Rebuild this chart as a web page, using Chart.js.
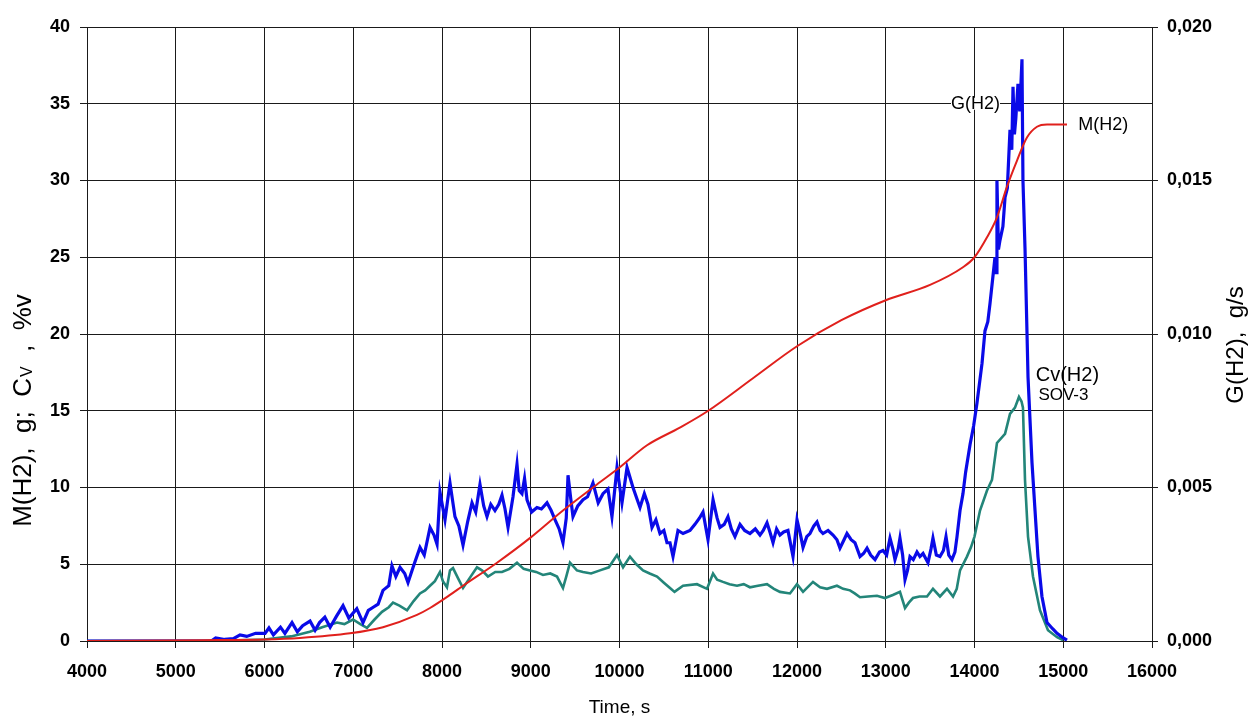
<!DOCTYPE html>
<html>
<head>
<meta charset="utf-8">
<script src="https://cdn.jsdelivr.net/npm/chart.js@4.4.0/dist/chart.umd.min.js"></script>
<style>
html, body { margin: 0; padding: 0; background: #fff; }
</style>
</head>
<body>
<canvas id="chart" width="1248" height="722"></canvas>
<script>
// G(H2), g/s  (right axis)
const gTime = [4000, 5000, 5400, 5450, 5550, 5650, 5724, 5800, 5900, 6006, 6050, 6100, 6180, 6230, 6310, 6370, 6430, 6513, 6570, 6620,
    6680, 6740, 6810, 6885, 6950, 7040, 7110, 7170, 7225, 7280, 7335, 7400, 7436, 7480, 7527, 7580, 7617, 7680, 7752, 7800,
    7865, 7910, 7944, 7977, 8034, 8090, 8146, 8190, 8237, 8290, 8338, 8380, 8428, 8470, 8507, 8550, 8597, 8640, 8676, 8710,
    8744, 8800, 8845, 8870, 8901, 8930, 8958, 9010, 9070, 9120, 9183, 9230, 9273, 9320, 9363, 9400, 9420, 9450, 9476, 9530,
    9589, 9640, 9701, 9760, 9814, 9870, 9915, 9972, 10028, 10085, 10152, 10200, 10231, 10280, 10321, 10366, 10410, 10456, 10500, 10535,
    10569, 10603, 10659, 10716, 10794, 10850, 10900, 10941, 10997, 11054, 11100, 11132, 11180, 11222, 11260, 11301, 11358, 11410, 11470, 11530,
    11583, 11620, 11662, 11700, 11730, 11770, 11808, 11850, 11898, 11955, 12000, 12040, 12068, 12110, 12146, 12190, 12225, 12260, 12293, 12350,
    12406, 12450, 12484, 12530, 12563, 12610, 12653, 12710, 12750, 12789, 12830, 12879, 12930, 12969, 13010, 13048, 13080, 13104, 13140, 13160,
    13190, 13217, 13245, 13273, 13310, 13352, 13385, 13420, 13476, 13510, 13532, 13570, 13611, 13650, 13679, 13710, 13746, 13780, 13803, 13837,
    13870, 13900, 13950, 13990, 14028, 14085, 14118, 14150, 14175, 14231, 14245, 14253, 14270, 14287, 14320, 14344, 14370, 14400, 14420, 14434,
    14450, 14465, 14490, 14510, 14535, 14546, 14569, 14591, 14603, 14648, 14682, 14715, 14760, 14817, 14880, 14930, 15000, 15042];
const gFlow = [0, 0, 0, 0.0001, 0.00005, 0.000075, 0.0002, 0.00015, 0.00025, 0.00025, 0.000425, 0.0002, 0.00045, 0.00025, 0.0006, 0.0003, 0.0005, 0.00065, 0.00035, 0.0006,
    0.000775, 0.00045, 0.0008, 0.00115, 0.00075, 0.00105, 0.0006, 0.001, 0.0011, 0.0012, 0.00165, 0.0018, 0.00245, 0.0021, 0.0024, 0.0022, 0.0019, 0.00245, 0.00305, 0.0028,
    0.0037, 0.00345, 0.00315, 0.00485, 0.00395, 0.00515, 0.00405, 0.00375, 0.003125, 0.0039, 0.0045, 0.0042, 0.0051, 0.0044, 0.00405, 0.00445, 0.00425, 0.00445, 0.00475, 0.0043,
    0.0037, 0.0047, 0.00575, 0.0049, 0.0048, 0.0053, 0.0046, 0.0042, 0.00435, 0.0043, 0.0045, 0.00425, 0.00395, 0.00365, 0.0032, 0.004, 0.0054, 0.00465, 0.00405, 0.0044,
    0.0046, 0.0047, 0.00515, 0.0045, 0.0048, 0.00495, 0.00405, 0.00565, 0.0045, 0.00565, 0.005, 0.0046, 0.00435, 0.0048, 0.00445, 0.0037, 0.00395, 0.0035, 0.0036, 0.0032,
    0.0032, 0.00275, 0.0036, 0.0035, 0.0036, 0.0038, 0.004, 0.0042, 0.0033, 0.0046, 0.004, 0.0037, 0.0038, 0.00405, 0.00365, 0.0034, 0.0038, 0.0036, 0.0035, 0.00365,
    0.00345, 0.0036, 0.00385, 0.0035, 0.0032, 0.00365, 0.00345, 0.00355, 0.0036, 0.00275, 0.00395, 0.00345, 0.00305, 0.0034, 0.0035, 0.00375, 0.003875, 0.0036, 0.0035, 0.0036,
    0.00345, 0.0033, 0.003025, 0.0033, 0.0035, 0.0033, 0.0032, 0.00275, 0.00285, 0.003025, 0.0028, 0.00265, 0.0029, 0.00295, 0.0028, 0.00335, 0.003, 0.00265, 0.003, 0.00335,
    0.0028, 0.002, 0.0023, 0.00275, 0.00265, 0.0029, 0.00275, 0.00285, 0.00255, 0.003, 0.00335, 0.0028, 0.00275, 0.00295, 0.0034, 0.0028, 0.00265, 0.0029, 0.0034, 0.00425,
    0.0048, 0.0055, 0.0064, 0.007, 0.00775, 0.00905, 0.0101, 0.0104, 0.011, 0.0125, 0.012, 0.015, 0.01275, 0.01305, 0.0135, 0.01445, 0.01475, 0.01665, 0.016, 0.01805,
    0.0165, 0.017, 0.01815, 0.01725, 0.01895, 0.015, 0.0128, 0.0101, 0.0086, 0.0058, 0.00425, 0.00275, 0.00145, 0.0006, 0.0004, 0.00025, 0.0001, 0.000025];

// Cv(H2) SOV-3, %v  (left axis)
const cTime = [4000, 5400, 6000, 6300, 6510, 6650, 6817, 6900, 6997, 7080, 7155, 7240, 7324, 7400, 7448, 7520, 7606, 7680, 7752, 7810,
    7865, 7920, 7977, 8010, 8056, 8090, 8124, 8180, 8237, 8300, 8394, 8450, 8518, 8600, 8676, 8760, 8845, 8920, 8991, 9060,
    9138, 9220, 9296, 9363, 9400, 9442, 9520, 9589, 9680, 9780, 9880, 9972, 10040, 10118, 10190, 10265, 10340, 10423, 10500, 10569,
    10620, 10716, 10873, 10986, 11054, 11100, 11166, 11240, 11324, 11400, 11470, 11560, 11662, 11740, 11808, 11921, 12000, 12068, 12180, 12260,
    12338, 12450, 12520, 12597, 12650, 12710, 12800, 12901, 12991, 13080, 13160, 13217, 13260, 13307, 13380, 13465, 13532, 13611, 13690, 13758,
    13800, 13837, 13915, 13960, 14000, 14062, 14141, 14197, 14253, 14344, 14400, 14456, 14501, 14530, 14546, 14569, 14603, 14659, 14738, 14828,
    14930, 15000];
const cConc = [0, 0, 0.1, 0.3, 0.6, 0.9, 1.2, 1.1, 1.4, 1.1, 0.85, 1.4, 1.9, 2.2, 2.5, 2.3, 2.0, 2.6, 3.1, 3.3,
    3.6, 3.9, 4.5, 3.9, 3.5, 4.6, 4.75, 4.1, 3.45, 4.0, 4.8, 4.6, 4.2, 4.5, 4.5, 4.7, 5.1, 4.7, 4.6, 4.5,
    4.3, 4.4, 4.2, 3.45, 4.2, 5.1, 4.6, 4.5, 4.4, 4.6, 4.8, 5.6, 4.8, 5.5, 5.0, 4.6, 4.4, 4.2, 3.8, 3.45,
    3.2, 3.6, 3.7, 3.4, 4.4, 4.0, 3.85, 3.7, 3.6, 3.7, 3.5, 3.6, 3.7, 3.4, 3.2, 3.1, 3.7, 3.2, 3.85, 3.5,
    3.4, 3.6, 3.4, 3.3, 3.1, 2.85, 2.9, 2.95, 2.8, 3.0, 3.2, 2.15, 2.5, 2.8, 2.9, 2.9, 3.4, 2.9, 3.4, 2.9,
    3.4, 4.6, 5.5, 6.1, 6.8, 8.5, 9.8, 10.5, 12.9, 13.5, 14.8, 15.2, 15.9, 15.6, 15.2, 10.5, 6.8, 4.2, 2.0, 0.7,
    0.25, 0.05];

// M(H2), g  (left axis)
const mTime = [4000, 5300, 6000, 6400, 6963, 7335, 7718, 7865, 8090, 8237, 8620, 8990, 9363, 9746, 10000, 10310, 10680, 11000, 11500, 12000,
    12500, 13000, 13499, 13870, 14000, 14141, 14253, 14366, 14479, 14591, 14704, 14817, 15042];
const mMass = [0, 0.05, 0.1, 0.2, 0.5, 0.9, 1.7, 2.15, 3.0, 3.6, 5.1, 6.7, 8.5, 10.2, 11.3, 12.75, 13.9, 15.0, 17.1, 19.2,
    20.9, 22.2, 23.2, 24.35, 25.0, 26.3, 27.6, 29.6, 31.3, 32.8, 33.5, 33.65, 33.65];

const xTicks = [4000, 5000, 6000, 7000, 8000, 9000, 10000, 11000, 12000, 13000, 14000, 15000, 16000];

const seriesLabels = [
    { text: "G(H2)", t: 13735, v: 35, size: 18, bg: true },
    { text: "M(H2)", t: 15170, v: 33.6, size: 18 },
    { text: "Cv(H2)", t: 14690, v: 17.3, size: 20 },
    { text: "SOV-3", t: 14720, v: 16.0, size: 17 }
];

const FONT = "'Liberation Sans', Arial, sans-serif";
const GRID = "#1a1a1a";

const toPoints = (xs, ys) => xs.map((x, i) => ({ x: x, y: ys[i] }));

const textPlugin = {
    id: "texts",
    afterDatasetsDraw(chart) {
        const ctx = chart.ctx;
        const xs = chart.scales.x, ys = chart.scales.y;
        ctx.save();
        ctx.fillStyle = "#000";
        ctx.textBaseline = "middle";
        ctx.textAlign = "left";
        seriesLabels.forEach(l => {
            ctx.font = l.size + "px " + FONT;
            const px = xs.getPixelForValue(l.t);
            const py = ys.getPixelForValue(l.v);
            if (l.bg) {
                const w = ctx.measureText(l.text).width;
                ctx.fillStyle = "#fff";
                ctx.fillRect(px, py - 6, w, 12);
                ctx.fillStyle = "#000";
            }
            ctx.fillText(l.text, px, py);
        });

        // x title
        ctx.font = "19px " + FONT;
        ctx.textAlign = "center";
        ctx.fillText("Time, s", (chart.chartArea.left + chart.chartArea.right) / 2, 708);

        // right title
        ctx.save();
        ctx.translate(1236, 345);
        ctx.rotate(-Math.PI / 2);
        ctx.font = "24px " + FONT;
        ctx.fillText("G(H2),  g/s", 0, 0);
        ctx.restore();

        // left title with subscript
        ctx.save();
        ctx.translate(24, 411);
        ctx.rotate(-Math.PI / 2);
        ctx.textAlign = "left";
        const a = "M(H2),  g;  C", sub = "V", b = "  ,  %v";
        ctx.font = "26px " + FONT;
        const wa = ctx.measureText(a).width, wb = ctx.measureText(b).width;
        ctx.font = "16px " + FONT;
        const ws = ctx.measureText(sub).width;
        const x0 = -(wa + ws + wb) / 2;
        ctx.font = "26px " + FONT;
        ctx.fillText(a, x0, 0);
        ctx.font = "16px " + FONT;
        ctx.fillText(sub, x0 + wa + 1, 4);
        ctx.font = "26px " + FONT;
        ctx.fillText(b, x0 + wa + ws + 1, 0);
        ctx.restore();
        ctx.restore();
    }
};

new Chart(document.getElementById("chart").getContext("2d"), {
    type: "line",
    data: {
        datasets: [
            { label: "M(H2)", data: toPoints(mTime, mMass), yAxisID: "y", borderColor: "#e0201c", borderWidth: 2, cubicInterpolationMode: "monotone", order: 1 },
            { label: "G(H2)", data: toPoints(gTime, gFlow), yAxisID: "y2", borderColor: "#0a0ae8", borderWidth: 3.2, order: 2 },
            { label: "Cv(H2) SOV-3", data: toPoints(cTime, cConc), yAxisID: "y", borderColor: "#238579", borderWidth: 2.6, order: 3 }
        ]
    },
    options: {
        responsive: false,
        animation: false,
        events: [],
        elements: { point: { radius: 0 }, line: { tension: 0, fill: false } },
        layout: { padding: { top: 27, left: 0, right: 0, bottom: 0 } },
        plugins: { legend: { display: false }, tooltip: { enabled: false } },
        scales: {
            x: {
                type: "linear",
                min: 4000,
                max: 16000,
                afterBuildTicks: s => { s.ticks = xTicks.map(v => ({ value: v })); },
                afterFit: s => { s.height = 81; },
                grid: { color: GRID, lineWidth: 1, tickLength: 7 },
                border: { color: GRID, width: 1 },
                ticks: {
                    padding: 13,
                    color: "#000",
                    font: { family: FONT, size: 18, weight: "bold" },
                    callback: v => String(v)
                }
            },
            y: {
                position: "left",
                min: 0,
                max: 40,
                afterFit: s => { s.width = 87; },
                grid: { color: GRID, lineWidth: 1, tickLength: 7 },
                border: { color: GRID, width: 1 },
                ticks: {
                    stepSize: 5,
                    padding: 10,
                    color: "#000",
                    font: { family: FONT, size: 18, weight: "bold" }
                }
            },
            y2: {
                position: "right",
                min: 0,
                max: 0.02,
                afterFit: s => { s.width = 96; },
                grid: { drawOnChartArea: false, color: GRID, tickLength: 6 },
                border: { color: GRID, width: 1 },
                ticks: {
                    stepSize: 0.005,
                    padding: 9,
                    color: "#000",
                    font: { family: FONT, size: 18, weight: "bold" },
                    callback: v => v.toFixed(3).replace(".", ",")
                }
            }
        }
    },
    plugins: [textPlugin]
});
</script>
</body>
</html>
